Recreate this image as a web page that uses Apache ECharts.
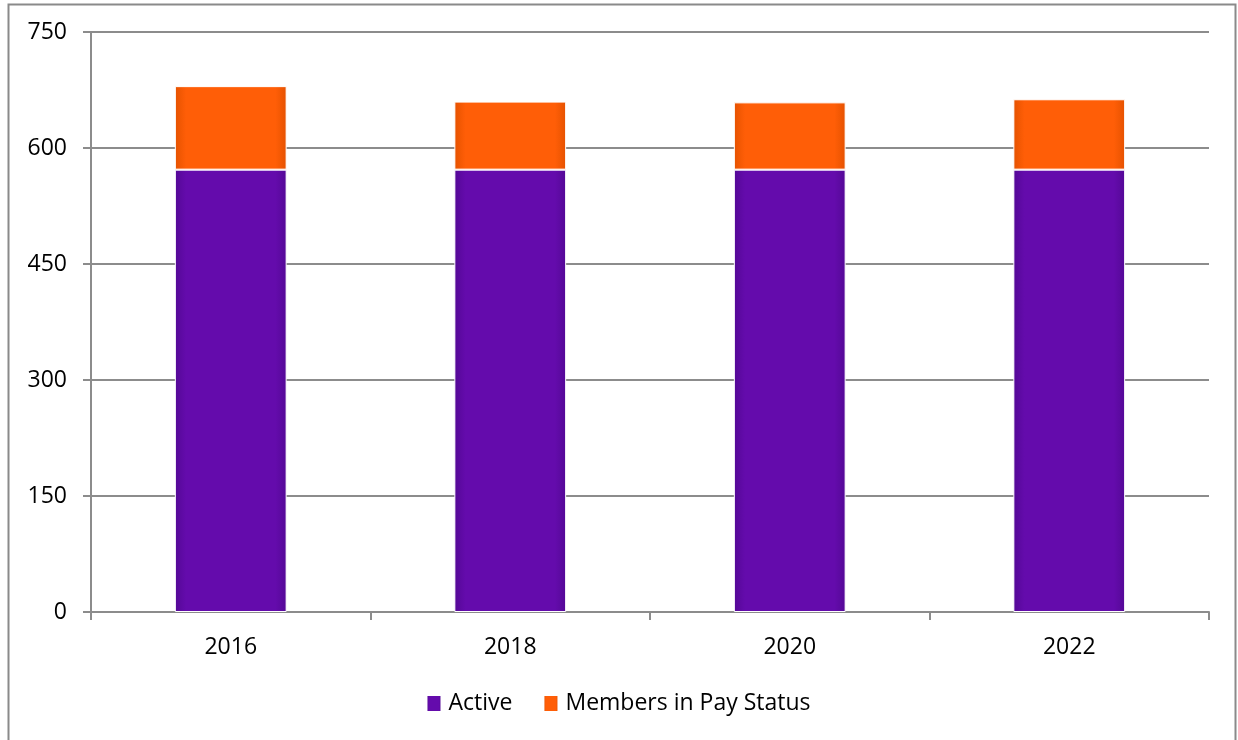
<!DOCTYPE html>
<html>
<head>
<meta charset="utf-8">
<script src="https://cdn.jsdelivr.net/npm/echarts@6/dist/echarts.min.js"></script>
<style>
html,body{margin:0;padding:0;background:#fff;}
#chart{width:1238px;height:740px;}
</style>
</head>
<body>
<div id="chart"></div>
<script>
const categories = ['2016', '2018', '2020', '2022'];
const activeValues = [572, 572, 572, 572];
const payStatusValues = [108, 88, 87, 91];
const yTicks = [0, 150, 300, 450, 600, 750];

const chart = echarts.init(document.getElementById('chart'));
const font = '"Open Sans", Lato, sans-serif';

function barGradient(edge, mid) {
  return new echarts.graphic.LinearGradient(0, 0, 1, 0, [
    {offset: 0, color: edge},
    {offset: 0.1, color: mid},
    {offset: 0.9, color: mid},
    {offset: 1, color: edge}
  ]);
}

chart.setOption({
  animation: false,
  backgroundColor: '#fff',
  graphic: [{
    type: 'rect',
    shape: {x: 8.5, y: 4.5, width: 1227, height: 745},
    style: {fill: 'none', stroke: '#8a8a8a', lineWidth: 2},
    silent: true
  }],
  grid: {left: 91, right: 29, top: 32, bottom: 128, containLabel: false},
  legend: {
    bottom: 20,
    left: 'center',
    itemWidth: 13,
    itemHeight: 15,
    itemGap: 32,
    icon: 'rect',
    itemStyle: {borderWidth: 0},
    textStyle: {fontFamily: font, fontSize: 23, color: '#000', padding: [0, 0, 0, 3]},
    data: ['Active', 'Members in Pay Status']
  },
  xAxis: {
    type: 'category',
    data: categories,
    axisLine: {lineStyle: {color: '#8c8c8c', width: 2}},
    axisTick: {show: true, alignWithLabel: false, length: 8, lineStyle: {color: '#8c8c8c', width: 2}},
    axisLabel: {fontFamily: font, fontSize: 23, color: '#000', margin: 24}
  },
  yAxis: {
    type: 'value',
    min: yTicks[0],
    max: yTicks[yTicks.length - 1],
    interval: yTicks[1] - yTicks[0],
    axisLine: {show: true, lineStyle: {color: '#8c8c8c', width: 2}},
    axisTick: {show: true, length: 8, lineStyle: {color: '#8c8c8c', width: 2}},
    axisLabel: {fontFamily: font, fontSize: 23, color: '#000', margin: 24},
    splitLine: {show: true, lineStyle: {color: '#8c8c8c', width: 2}}
  },
  series: [
    {
      name: 'Active',
      type: 'bar',
      stack: 'total',
      data: activeValues,
      barWidth: '40%',
      itemStyle: {color: barGradient('#540896', '#640bac'), borderColor: '#fff', borderWidth: 1}
    },
    {
      name: 'Members in Pay Status',
      type: 'bar',
      stack: 'total',
      data: payStatusValues,
      barWidth: '40%',
      itemStyle: {color: barGradient('#e55200', '#ff5e07'), borderColor: '#fff', borderWidth: 1}
    }
  ]
});
</script>
</body>
</html>
